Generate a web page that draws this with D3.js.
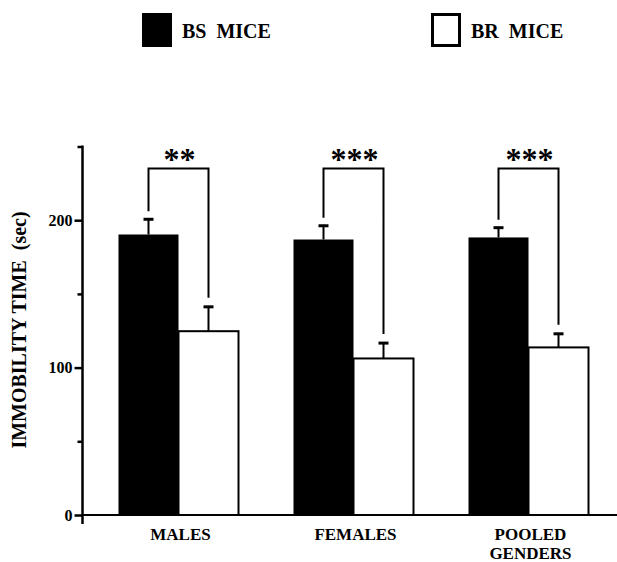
<!DOCTYPE html>
<html>
<head>
<meta charset="utf-8">
<script src="https://cdn.jsdelivr.net/npm/d3@7"></script>
<style>
  html, body { margin: 0; padding: 0; background: #fff; }
  svg { display: block; }
  text { font-family: "Liberation Serif", "Times New Roman", serif; font-weight: bold; fill: #000; }
</style>
</head>
<body>
<svg id="chart" width="617" height="562"></svg>
<script>
// Immobility time (sec), mean ± SEM, per group
const groups = ["MALES", "FEMALES", "POOLED GENDERS"];
const groupLines = [["MALES"], ["FEMALES"], ["POOLED", "GENDERS"]];
const strains = ["BS MICE", "BR MICE"];
const bsMean = [190.3, 186.9, 188.3];
const bsSem = [11, 10, 7.3];
const brMean = [124.7, 106.2, 113.7];
const brSem = [17.2, 11.1, 9.9];
const stars = ["**", "***", "***"];
const majorTicks = [0, 100, 200];
const minorTicks = [50, 150, 250];

const W = 617, H = 562;
const axisX = 82.5;
const svg = d3.select("#chart");

const y = d3.scaleLinear().domain([0, 250]).range([515, 146.5]);
const x0 = d3.scaleBand().domain(groups).range([axisX, 624.5])
  .paddingInner(0.3143).paddingOuter(0.2057);
const x1 = d3.scaleBand().domain(strains).range([0, x0.bandwidth()]);

const rows = groups.map((g, i) => ({
  group: g, lines: groupLines[i], star: stars[i],
  bars: [
    { strain: strains[0], mean: bsMean[i], sem: bsSem[i], fill: "#000" },
    { strain: strains[1], mean: brMean[i], sem: brSem[i], fill: "#fff" }
  ]
}));

// Legend
const legendX = [142, 431];
strains.forEach((s, i) => {
  const lg = svg.append("g").attr("transform", `translate(${legendX[i]},13)`);
  lg.append("rect")
    .attr("x", i ? 1.5 : 0).attr("y", i ? 1.5 : 0)
    .attr("width", i ? 27 : 30).attr("height", i ? 31 : 34)
    .attr("fill", i ? "#fff" : "#000")
    .attr("stroke", "#000").attr("stroke-width", i ? 3 : 0);
  lg.append("text").attr("x", 40).attr("y", 24.5)
    .attr("font-size", 20).attr("xml:space", "preserve")
    .text(s.replace(" ", "  "));
});

// Bars
const gGroups = svg.append("g").selectAll("g").data(rows).join("g")
  .attr("transform", d => `translate(${x0(d.group)},0)`);

gGroups.selectAll("rect.bar").data(d => d.bars).join("rect")
  .attr("class", "bar")
  .attr("x", d => x1(d.strain))
  .attr("y", d => y(d.mean))
  .attr("width", x1.bandwidth())
  .attr("height", d => y(0) - y(d.mean))
  .attr("fill", d => d.fill)
  .attr("stroke", "#000")
  .attr("stroke-width", d => d.fill === "#fff" ? 2 : 0);

// Error bars (upper only)
gGroups.selectAll("g.err").data(d => d.bars).join("g").attr("class", "err")
  .each(function(d) {
    const cx = x1(d.strain) + x1.bandwidth() / 2;
    const g = d3.select(this);
    g.append("line").attr("x1", cx).attr("x2", cx)
      .attr("y1", y(d.mean)).attr("y2", y(d.mean + d.sem))
      .attr("stroke", "#000").attr("stroke-width", 2);
    g.append("line").attr("x1", cx - 5).attr("x2", cx + 5)
      .attr("y1", y(d.mean + d.sem) + 1).attr("y2", y(d.mean + d.sem) + 1)
      .attr("stroke", "#000").attr("stroke-width", 3);
  });

// Significance brackets
const bracketVal = 235;
gGroups.each(function(d) {
  const g = d3.select(this);
  const [a, b] = d.bars;
  const xa = x1(a.strain) + x1.bandwidth() / 2;
  const xb = x1(b.strain) + x1.bandwidth() / 2;
  const yt = y(bracketVal);
  g.append("path")
    .attr("d", `M${xa},${y(a.mean + a.sem) - 7}V${yt}H${xb}V${y(b.mean + b.sem) - 8}`)
    .attr("fill", "none").attr("stroke", "#000").attr("stroke-width", 2);
  g.append("text").attr("x", (xa + xb) / 2 + 1).attr("y", yt + 1)
    .attr("text-anchor", "middle").attr("font-size", 32)
    .text(d.star);
});

// Y axis
const axisG = svg.append("g").attr("transform", `translate(${axisX},0)`);
axisG.append("g")
  .call(d3.axisLeft(y).tickValues(majorTicks).tickSize(8).tickPadding(2).tickFormat(d3.format("d")))
  .call(g => g.select(".domain").remove())
  .call(g => g.selectAll("line").attr("stroke", "#000").attr("stroke-width", 2.5))
  .call(g => g.selectAll("text").attr("font-size", 16).attr("font-family", "Liberation Serif").attr("font-weight", "bold").attr("fill", "#000"));
axisG.append("g")
  .call(d3.axisLeft(y).tickValues(minorTicks).tickSize(5).tickFormat(""))
  .call(g => g.select(".domain").remove())
  .call(g => g.selectAll("line").attr("stroke", "#000").attr("stroke-width", 2.5));
axisG.append("line").attr("x1", 0).attr("x2", 0)
  .attr("y1", y(250) - 1).attr("y2", y(0) + 9)
  .attr("stroke", "#000").attr("stroke-width", 2.5);

// Baseline
svg.append("line").attr("x1", axisX).attr("x2", W)
  .attr("y1", y(0)).attr("y2", y(0))
  .attr("stroke", "#000").attr("stroke-width", 2);

// Category labels
gGroups.each(function(d) {
  const g = d3.select(this);
  d.lines.forEach((line, i) => {
    g.append("text")
      .attr("text-anchor", "middle").attr("font-size", 17)
      .attr("x", x0.bandwidth() / 2 + 2)
      .attr("y", 540 + i * 19)
      .text(line);
  });
});

// Y axis title
svg.append("text")
  .attr("transform", `translate(26,330) rotate(-90)`)
  .attr("text-anchor", "middle").attr("font-size", 20)
  .attr("xml:space", "preserve")
  .text("IMMOBILITY TIME  (sec)");
</script>
</body>
</html>
